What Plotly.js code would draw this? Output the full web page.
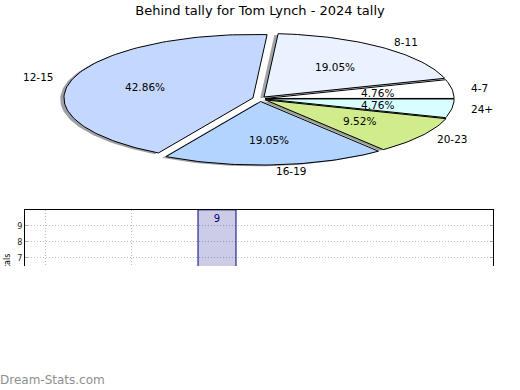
<!DOCTYPE html>
<html><head><meta charset="utf-8">
<script src="https://cdn.plot.ly/plotly-3.0.1.min.js"></script>
<style>
html,body{margin:0;padding:0;background:#fff;}
#wrap{position:relative;width:520px;height:390px;overflow:hidden;background:#fff;}
#clip{position:absolute;left:0;top:0;width:520px;height:266px;overflow:hidden;}
#chart{width:520px;height:390px;}
#wm{position:absolute;left:0;top:373px;font-family:'DejaVu Sans',sans-serif;font-size:12px;line-height:14px;color:#8f8f8f;white-space:nowrap;}
</style></head><body>
<div id="wrap"><div id="clip"><div id="chart"></div></div><div id="wm">Dream-Stats.com</div></div>
<script>
// ---- data ----
const titleText = 'Behind tally for Tom Lynch - 2024 tally';
const categories = ['4-7', '8-11', '12-15', '16-19', '20-23', '24+'];
const counts = [1, 4, 9, 4, 2, 1];
const sliceColors = ['#ffffff', '#eaf1ff', '#c4d8ff', '#b2d4ff', '#d0ec8c', '#d8ffff'];
const explode = [0.027, 0.034, 0.039, 0.045, 0.035, 0.027];
const barX = [2];
const barValues = [10];
const barLabels = ['9'];
const gridX = [0, 1];
const yTicks = [7, 8, 9];
const yTitle = 'Behind tally totals';

// ---- build pie wedges (elliptical via axis scaling) ----
const total = counts.reduce((a, b) => a + b, 0);
const traces = [];
const shadows = [];
const wedges = [];
const annotations = [];
function hexToRgb(h) {
  const n = parseInt(h.slice(1), 16);
  return [(n >> 16) & 255, (n >> 8) & 255, n & 255];
}
let start = 0;
counts.forEach((c, i) => {
  const sweep = 360 * c / total;
  const t1 = start, t2 = start + sweep;
  const mid = (t1 + t2) / 2 * Math.PI / 180;
  const dx = explode[i] * Math.cos(mid), dy = explode[i] * Math.sin(mid);
  const n = Math.max(4, Math.ceil(sweep / 1.5));
  const xs = [dx], ys = [dy];
  for (let k = 0; k <= n; k++) {
    const a = (t1 + sweep * k / n) * Math.PI / 180;
    xs.push(dx + Math.cos(a)); ys.push(dy + Math.sin(a));
  }
  xs.push(dx); ys.push(dy);
  const rgb = hexToRgb(sliceColors[i]);
  shadows.push({
    type: 'scatter', mode: 'lines', xaxis: 'x', yaxis: 'y',
    x: xs.map(v => v - 0.02), y: ys.map(v => v - 0.02),
    fill: 'toself', line: {width: 0, color: 'rgba(0,0,0,0)'},
    fillcolor: `rgba(${Math.round(rgb[0]*0.3)},${Math.round(rgb[1]*0.3)},${Math.round(rgb[2]*0.3)},0.5)`,
    hoverinfo: 'skip', showlegend: false
  });
  wedges.push({
    type: 'scatter', mode: 'lines', xaxis: 'x', yaxis: 'y',
    x: xs, y: ys, fill: 'toself', fillcolor: sliceColors[i],
    line: {width: 1, color: '#000000'}, name: categories[i],
    hoverinfo: 'skip', showlegend: false
  });
  const lx = dx + 1.1 * Math.cos(mid), ly = dy + 1.1 * Math.sin(mid);
  annotations.push({
    xref: 'x', yref: 'y', x: lx, y: ly, text: categories[i], showarrow: false,
    xanchor: Math.cos(mid) > 0 ? 'left' : 'right', yanchor: 'middle',
    borderpad: 0, borderwidth: 0,
    font: {family: 'DejaVu Sans', size: 10.5, color: '#000'}
  });
  const px = dx + 0.6 * Math.cos(mid), py = dy + 0.6 * Math.sin(mid);
  annotations.push({
    xref: 'x', yref: 'y', x: px, y: py, text: (100 * c / total).toFixed(2) + '%',
    showarrow: false, xanchor: 'center', yanchor: 'middle', borderpad: 0, borderwidth: 0,
    font: {family: 'DejaVu Sans', size: 10.5, color: '#000'}
  });
  start = t2;
});

traces.push(...shadows, ...wedges);

traces.push({
  type: 'bar', x: barX, y: barValues, xaxis: 'x2', yaxis: 'y2',
  width: 0.4419,
  marker: {color: 'rgba(0,0,128,0.2)', line: {color: '#000080', width: 1}},
  text: barLabels, textposition: 'inside', insidetextanchor: 'end',
  textangle: 0, constraintext: 'none',
  textfont: {family: 'DejaVu Sans', size: 10, color: '#000080'},
  hoverinfo: 'skip', showlegend: false
});

// pie geometry in page pixels: centre (260, 98.7), radii 189 x 63.5
const W = 520, H = 390, cx = 260, cy = 98.7, rx = 189, ry = 63.5;

const layout = {
  width: W, height: H,
  margin: {l: 0, r: 0, t: 0, b: 0},
  paper_bgcolor: '#ffffff', plot_bgcolor: 'rgba(0,0,0,0)',
  font: {family: 'DejaVu Sans', color: '#000'},
  showlegend: false,
  title: {text: titleText, x: 0.5, xanchor: 'center', y: 1 - 10 / H, yanchor: 'middle',
          font: {family: 'DejaVu Sans', size: 13, color: '#000'}},
  xaxis: {domain: [0, 1], range: [-cx / rx, (W - cx) / rx], visible: false, fixedrange: true},
  yaxis: {domain: [0, 1], range: [-(H - cy) / ry, cy / ry], visible: false, fixedrange: true},
  xaxis2: {domain: [25 / W, 493 / W], anchor: 'y2', range: [-20 / 86, 448 / 86],
           showline: true, mirror: true, linecolor: '#000', linewidth: 1,
           showgrid: true, gridcolor: '#bdbdbd', griddash: '1px,2px', gridwidth: 1,
           tickmode: 'array', tickvals: gridX, showticklabels: false, ticks: '',
           zeroline: false, fixedrange: true},
  yaxis2: {domain: [20 / H, 180 / H], anchor: 'x2', range: [0, 9.99],
           showline: true, mirror: 'ticks', linecolor: '#000', linewidth: 1,
           tickmode: 'array', tickvals: yTicks, ticks: 'inside', ticklen: 3, tickcolor: '#aaa',
           showgrid: true, gridcolor: '#bdbdbd', griddash: '1px,2px', gridwidth: 1,
           zeroline: false, tickfont: {family: 'DejaVu Sans', size: 8, color: '#222'},
           title: {text: yTitle, font: {family: 'DejaVu Sans', size: 8, color: '#000'}, standoff: 5},
           fixedrange: true},
  annotations: annotations
};

Plotly.newPlot('chart', traces, layout, {staticPlot: true, displayModeBar: false});
</script>
</body></html>
